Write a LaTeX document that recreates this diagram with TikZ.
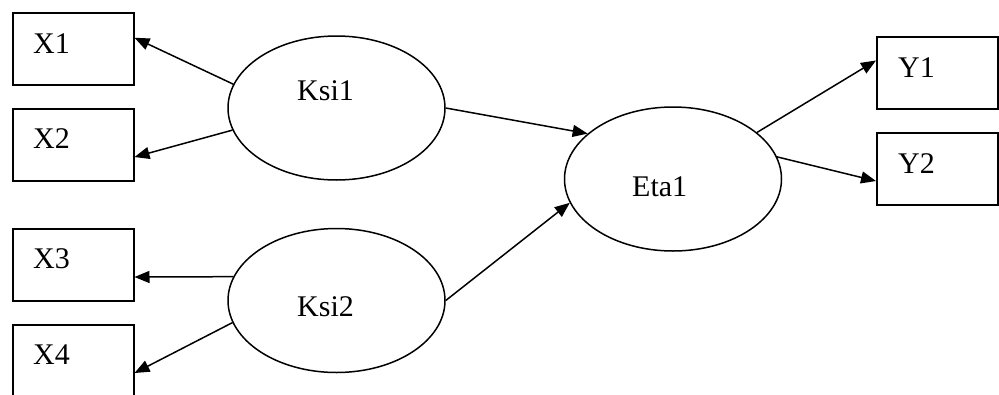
\documentclass[tikz,border=0pt]{standalone}
\usepackage{fontspec}
\setmainfont{Liberation Serif}
\usetikzlibrary{arrows.meta,calc,shapes.geometric}
\begin{document}
\begin{tikzpicture}[x=1pt,y=-1pt,
  box/.style={draw,line width=1.5pt,rectangle,minimum width=121pt,minimum height=72pt,inner sep=0pt,anchor=north west},
  lat/.style={draw,line width=1.5pt,ellipse,minimum width=217pt,minimum height=144pt,inner sep=0pt},
  txt/.style={font=\fontsize{30}{36}\selectfont,inner sep=0pt,anchor=base west},
  arr/.style={line width=1.5pt,-{Triangle[length=15pt,width=12pt]}}]
\fill[white] (0,0) rectangle (999,394);
\useasboundingbox (0,0) rectangle (999,394);
\clip (0,0) rectangle (999,394);
% boxes
\node[box] (x1) at (12,12) {};
\node[box] (x2) at (12,108) {};
\node[box] (x3) at (12,228) {};
\node[box] (x4) at (12,324) {};
\node[box] (y1) at (876,36) {};
\node[box] (y2) at (876,132) {};
% latent variables
\node[lat] (ksi1) at (336.5,108) {};
\node[lat] (ksi2) at (336.5,300.5) {};
\node[lat] (eta1) at (673,179) {};
% labels
\node[txt] (tx1) at (33,53) {X1};
\node[txt] (tx2) at (33,148) {X2};
\node[txt] (tx3) at (33,268) {X3};
\node[txt] (tx4) at (33,364) {X4};
\node[txt] (ty1) at (898,77) {Y1};
\node[txt] (ty2) at (898,173) {Y2};
\node[txt] (tk1) at (297,100) {Ksi1};
\node[txt] (tk2) at (297,316) {Ksi2};
\node[txt] (te1) at (632,196) {Eta1};
% connectors
\draw[arr] (ksi1.167.5) -- ($(x1.north east)!0.35!(x1.south east)$);
\draw[arr] (ksi1.192.5) -- ($(x2.north east)!0.667!(x2.south east)$);
\draw[arr] (ksi2.167) -- ($(x3.north east)!0.667!(x3.south east)$);
\draw[arr] (ksi2.192) -- ($(x4.north east)!0.667!(x4.south east)$);
\draw[arr] (ksi1.east) -- (eta1.152);
\draw[arr] (ksi2.east) -- (eta1.193);
\draw[arr] (eta1.29.5) -- ($(y1.north west)!0.333!(y1.south west)$);
\draw[arr] (eta1.12) -- ($(y2.north west)!0.667!(y2.south west)$);
\end{tikzpicture}
\end{document}
